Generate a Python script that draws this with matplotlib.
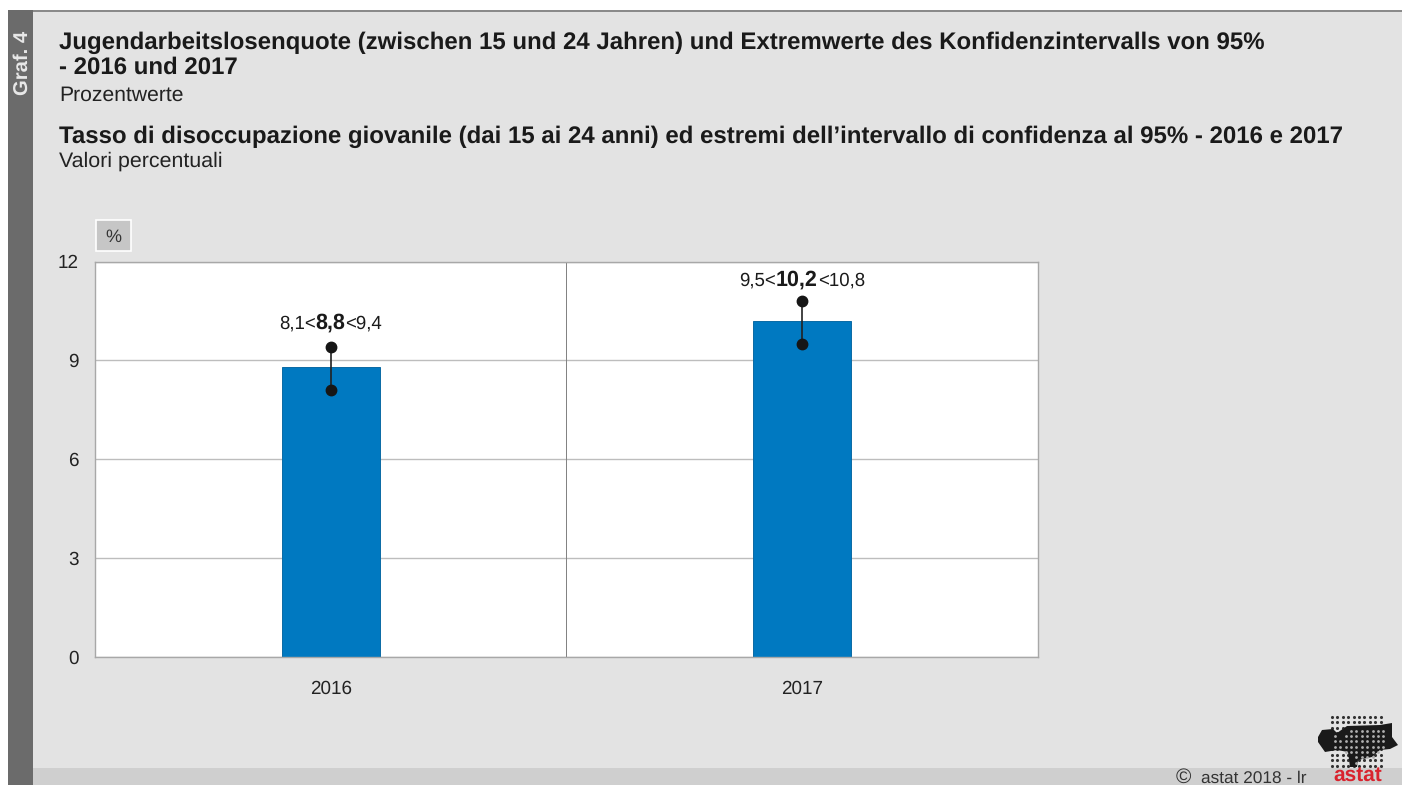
import matplotlib
matplotlib.use('Agg')
import matplotlib.pyplot as plt
import numpy as np
from matplotlib.patches import Rectangle, Polygon
from matplotlib.path import Path

plt.rcParams['font.family'] = ['Liberation Sans', 'DejaVu Sans']
plt.rcParams['text.hinting'] = 'no_hinting'

W, H = 1402, 785

# data
years = ['2016', '2017']
rates = [8.8, 10.2]
lower = [8.1, 9.5]
upper = [9.4, 10.8]
rate_labels = ['8,8', '10,2']
lower_labels = ['8,1', '9,5']
upper_labels = ['9,4', '10,8']
y_ticks = [0, 3, 6, 9, 12]

title_de = 'Jugendarbeitslosenquote (zwischen 15 und 24 Jahren) und Extremwerte des Konfidenzintervalls von 95%\n- 2016 und 2017'
sub_de = 'Prozentwerte'
title_it = 'Tasso di disoccupazione giovanile (dai 15 ai 24 anni) ed estremi dell\u2019intervallo di confidenza al 95% - 2016 e 2017'
sub_it = 'Valori percentuali'

# logo outline in pixels
blob = [(1318, 737), (1322, 730), (1333, 729), (1337, 733), (1347, 726), (1380, 725),
        (1392, 723), (1392, 737), (1398, 745), (1390, 749), (1380, 750), (1372, 757),
        (1358, 760), (1357, 767), (1350, 767), (1348, 752), (1337, 750), (1325, 752),
        (1318, 742)]

fig = plt.figure(figsize=(W / 100, H / 100), dpi=100, facecolor='white')

# background layer in pixel coordinates
bg = fig.add_axes([0, 0, 1, 1], zorder=0)
bg.set_xlim(0, W)
bg.set_ylim(H, 0)
bg.axis('off')
bg.add_patch(Rectangle((8, 10), W - 8, H - 10, fc='#e3e3e3', ec='none'))
bg.add_patch(Rectangle((8, 10), W - 8, 1.5, fc='#8a8a8a', ec='none'))
bg.add_patch(Rectangle((33, 768), W - 33, H - 768, fc='#cfcfcf', ec='none'))
bg.add_patch(Rectangle((8, 10), 25, H - 10, fc='#6b6b6b', ec='none'))
bg.add_patch(Rectangle((96, 220), 35, 31, fc='#c6c6c6', ec='white', lw=1.2))

# header text
bg.text(23, 63, 'Graf. 4', color='#e8e8e8', fontsize=14.6, fontweight='bold',
        rotation=90, ha='center', va='center')
bg.text(59, 55.5, title_de, color='#1a1a1a', fontsize=17.3, fontweight='bold',
        va='center', linespacing=1.13)
bg.text(59, 95, sub_de, color='#222222', fontsize=15.2, va='center')
bg.text(59, 137, title_it, color='#1a1a1a', fontsize=17.3, fontweight='bold', va='center')
bg.text(59, 161, sub_it, color='#222222', fontsize=15.4, va='center')
bg.text(113.5, 237.5, '%', color='#333333', fontsize=13, ha='center', va='center')

# logo
gx, gy = np.meshgrid(np.arange(1332, 1384, 5.4), np.arange(717, 768, 5.4))
bg.scatter(gx.ravel(), gy.ravel(), s=5, color='#333333', lw=0)
bg.add_patch(Polygon(blob, closed=True, fc='#1a1a1a', ec='none'))
pts = np.column_stack([gx.ravel(), gy.ravel()])
inside = Path(blob).contains_points(pts, radius=-3)
bg.scatter(pts[inside, 0] + 2.7, pts[inside, 1] + 2.7, s=4, color='#b0b0b0', lw=0)
bg.text(1358, 785, 'astat', color='#d9232e', fontsize=15, fontweight='bold', ha='center', va='bottom')
bg.text(1183, 777, '\u00a9', color='#333333', fontsize=15, ha='center', va='center')
bg.text(1201, 778, 'astat 2018 - lr', color='#333333', fontsize=12.4, va='center')

# chart
ax = fig.add_axes([95 / W, 1 - 656.5 / H, 942.5 / W, 395 / H], zorder=1, facecolor='white')
x = np.arange(len(years))
ax.set_xlim(-0.5, 1.5)
ax.set_ylim(0, 12)
ax.set_axisbelow(True)
ax.yaxis.grid(True, color='#bdbdbd', lw=1.0)
ax.axvline(0.5, color='#808080', lw=0.7, zorder=1)
ax.bar(x, rates, width=0.208, color='#0079c1', edgecolor='#0a6aa5', lw=0.7, zorder=2)
ax.vlines(x, lower, upper, color='#222222', lw=1.2, zorder=3)
ax.plot(x, lower, 'o', color='#161616', ms=7.5, zorder=4, ls='')
ax.plot(x, upper, 'o', color='#161616', ms=7.5, zorder=4, ls='')

ax.set_xticks(x, years)
ax.set_yticks(y_ticks)
ax.tick_params(length=0, labelsize=13.6, labelcolor='#222222')
ax.tick_params(axis='x', pad=17)
ax.tick_params(axis='y', pad=11.5)
for s in ax.spines.values():
    s.set_color('#a8a8a8')
    s.set_linewidth(1.0)

# value labels: plain, bold, plain, laid out by measured width
fig.canvas.draw()
renderer = fig.canvas.get_renderer()
label_gap = [13, 11]
for i in range(len(years)):
    parts = [(lower_labels[i] + '<', 'normal', 13.4), (rate_labels[i], 'bold', 15.5),
             ('<' + upper_labels[i], 'normal', 13.4)]
    texts = [ax.annotate(p, (x[i], upper[i]), xytext=(0, label_gap[i]), textcoords='offset points',
                         ha='left', va='baseline', fontweight=w, fontsize=s, color='#1a1a1a')
             for p, w, s in parts]
    widths = [t.get_window_extent(renderer).width for t in texts]
    left = -sum(widths) / 2
    for t, wd in zip(texts, widths):
        t.set_position((left * 0.72, label_gap[i]))
        left += wd

fig.savefig('out.png', dpi=100)
